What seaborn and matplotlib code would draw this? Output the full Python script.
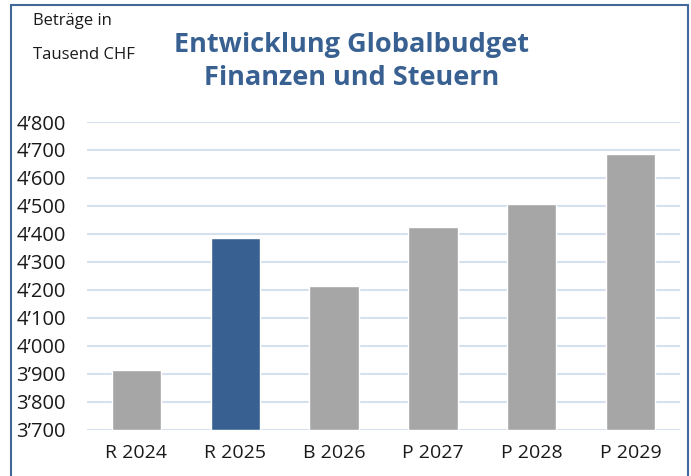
import matplotlib
matplotlib.use("Agg")
import matplotlib.pyplot as plt
import matplotlib.ticker as mticker
from matplotlib.patches import Rectangle
import pandas as pd
import seaborn as sns

categories = ["R 2024", "R 2025", "B 2026", "P 2027", "P 2028", "P 2029"]
values = [3913, 4385, 4214, 4425, 4507, 4685]
highlight = [False, True, False, False, False, False]

BLUE = "#386091"
GREY = "#a6a6a6"

df = pd.DataFrame({"cat": categories, "val": values,
                   "kind": ["hl" if h else "base" for h in highlight]})

sns.set_theme(style="white")
plt.rcParams["font.family"] = ["Open Sans", "DejaVu Sans"]

fig = plt.figure(figsize=(6.91, 4.76), dpi=100)
ax = fig.add_axes([87 / 691, 1 - 429.7 / 476, (680 - 87) / 691, (429.7 - 122) / 476])

sns.barplot(ax=ax, data=df, x="cat", y="val", hue="kind",
            palette={"base": GREY, "hl": BLUE}, width=0.5, dodge=False,
            saturation=1, legend=False)
# bars start at the axis floor
for p in ax.patches:
    h = p.get_height()
    p.set_y(3700)
    p.set_height(h - 3700)

ax.set_ylim(3700, 4800)
ax.set_yticks(range(3700, 4801, 100))
ax.yaxis.set_major_formatter(mticker.FuncFormatter(lambda v, _: f"{int(v):,}".replace(",", "\u2019")))
ax.grid(axis="y", color="#d6e1f0", lw=1.5)
ax.set_axisbelow(True)
for s in ax.spines.values():
    s.set_visible(False)
ax.set_xlabel("")
ax.set_ylabel("")
# pad is in points: 71 px -> ~51 pt
ax.tick_params(axis="y", length=0, labelsize=14.5, colors="#1a1a1a", pad=51)
for t in ax.get_yticklabels():
    t.set_horizontalalignment("left")
ax.tick_params(axis="x", length=0, labelsize=14, colors="#1a1a1a", pad=10)

fig.text(33 / 691, 1 - 21 / 476, "Beträge in", fontsize=12, color="#1a1a1a", va="center", ha="left")
fig.text(33 / 691, 1 - 55 / 476, "Tausend CHF", fontsize=12, color="#1a1a1a", va="center", ha="left")
fig.text(352 / 691, 1 - 45 / 476, "Entwicklung Globalbudget", fontsize=19.5, fontweight="bold",
         color=BLUE, ha="center", va="center")
fig.text(352 / 691, 1 - 78 / 476, "Finanzen und Steuern", fontsize=19.5, fontweight="bold",
         color=BLUE, ha="center", va="center")

fig.patches.append(Rectangle((11 / 691, -0.05), (688 - 11) / 691, 1.05 - 5 / 476,
                             transform=fig.transFigure, fill=False,
                             edgecolor="#41689a", lw=1.5))

fig.savefig("out.png", dpi=100)
